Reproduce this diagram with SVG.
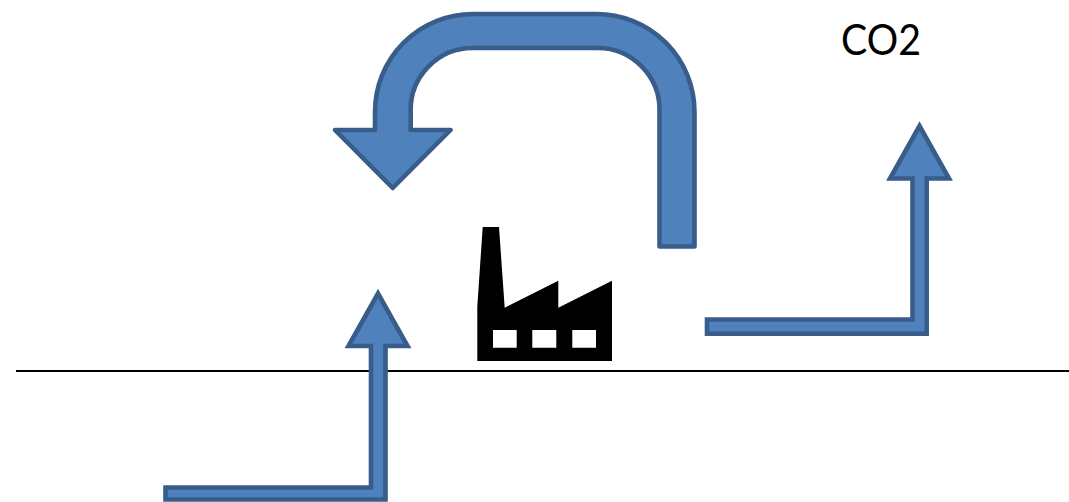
<svg xmlns="http://www.w3.org/2000/svg" width="1069" height="502" viewBox="0 0 1069 502">
<style>
.arrow{fill:#4f81bd;stroke:#385d8a;stroke-width:4.6;stroke-linejoin:miter}
.round{stroke-linejoin:round}
.ground{stroke:#000;stroke-width:2;fill:none}
.label{font-family:"Lato","Open Sans",sans-serif;font-size:43px;fill:#000}
</style>
<rect width="1069" height="502" fill="#fff"/>
<g id="ground"><line class="ground" x1="16" y1="371" x2="1069" y2="371"/></g>
<g id="connectors">
<path id="recycle-arrow" class="arrow round" d="M694.500 246.500V112A98 98 0 0 0 596.500 14H473A98 98 0 0 0 375 112V130H335L392.700 188L450.500 130H410.700V112A62 62 0 0 1 472.700 48H597A62 62 0 0 1 659.500 112V246.500Z"/>
<path id="input-arrow" class="arrow" d="M165.500 499.500H385.500V346H407.500L378 293.500L348.500 346H371V487.500H165.500Z"/>
<path id="output-arrow" class="arrow" d="M707 333.700H926.700V178.500H949L919.500 126L890 178.500H912.500V319.500H707Z"/>
</g>
<g id="factory">
<path fill-rule="evenodd" d="M482.700 227H499L504.700 307.700L558.300 280.700V307.700L612 280.700V361H477.300V306.700ZM493 330V347.700H516.700V330ZM532.300 330V347.700H556.300V330ZM572.300 330V347.700H596V330Z"/>
</g>
<g id="co2"><text class="label" x="841" y="55" textLength="80" lengthAdjust="spacingAndGlyphs">CO2</text></g>
</svg>
